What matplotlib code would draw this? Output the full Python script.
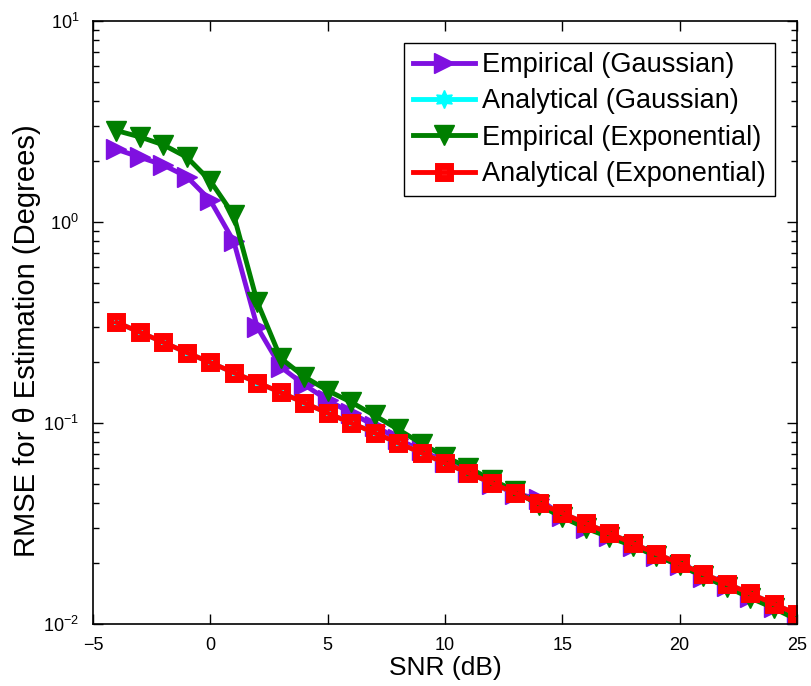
import numpy as np
import matplotlib
matplotlib.use("Agg")
import matplotlib.pyplot as plt

plt.rcParams["font.family"] = ["Liberation Sans", "DejaVu Sans"]
plt.rcParams["mathtext.fontset"] = "custom"
plt.rcParams["mathtext.rm"] = "Liberation Sans"
plt.rcParams["mathtext.it"] = "Liberation Sans:italic"

snr_db = list(range(-4, 26))

emp_gauss = [2.3, 2.1, 1.92, 1.68, 1.28, 0.80, 0.30, 0.19, 0.155, 0.13,
             0.112, 0.097, 0.083, 0.073, 0.064, 0.057, 0.050, 0.0445, 0.042, 0.0345,
             0.030, 0.0275, 0.0245, 0.0218, 0.0196, 0.0172, 0.0154, 0.0137, 0.0122, 0.0105]

ana_gauss = [0.317, 0.283, 0.252, 0.224, 0.200, 0.178, 0.159, 0.142, 0.126, 0.112,
             0.100, 0.0893, 0.0796, 0.0710, 0.0632, 0.0564, 0.0502, 0.0448, 0.0399, 0.0356,
             0.0317, 0.0283, 0.0252, 0.0224, 0.0200, 0.0178, 0.0159, 0.0142, 0.0126, 0.0112]

emp_expo = [2.85, 2.65, 2.42, 2.1, 1.6, 1.08, 0.40, 0.21, 0.17, 0.145,
            0.127, 0.109, 0.093, 0.079, 0.068, 0.060, 0.052, 0.046, 0.039, 0.034,
            0.030, 0.027, 0.0245, 0.0218, 0.0196, 0.0173, 0.0153, 0.0135, 0.012, 0.0105]

ana_expo = [0.317, 0.283, 0.252, 0.224, 0.200, 0.178, 0.159, 0.142, 0.126, 0.112,
            0.100, 0.0893, 0.0796, 0.0710, 0.0632, 0.0564, 0.0502, 0.0448, 0.0399, 0.0356,
            0.0317, 0.0283, 0.0252, 0.0224, 0.0200, 0.0178, 0.0159, 0.0142, 0.0126, 0.0112]

fig = plt.figure(figsize=(8.11, 6.86), dpi=100)
ax = fig.add_axes([93 / 811, 62 / 686, 704 / 811, 603 / 686])

lw = 3.5
ax.plot(snr_db, emp_gauss, "-", marker=">", color="#7f10e0", lw=lw, ms=15,
        label="Empirical (Gaussian)")
ax.plot(snr_db, ana_gauss, "-", marker=(6, 1, 0), color="cyan", lw=lw, ms=13,
        label="Analytical (Gaussian)")
ax.plot(snr_db, emp_expo, "-", marker="v", color="#007f00", lw=lw, ms=15,
        label="Empirical (Exponential)")
ax.plot(snr_db, ana_expo, "-", marker="s", color="red", mfc="none", mew=5, lw=lw, ms=9,
        label="Analytical (Exponential)")

ax.set_yscale("log")
ax.set_xlim(-5, 25)
ax.set_ylim(1e-2, 10)
ax.set_xticks([-5, 0, 5, 10, 15, 20, 25])
ax.set_xticklabels(["\u22125", "0", "5", "10", "15", "20", "25"])
ax.tick_params(which="both", direction="in", top=True, right=True, labelsize=13)
ax.tick_params(axis="x", pad=9)
ax.tick_params(axis="y", pad=10)
ax.tick_params(which="major", length=7, width=1)
ax.tick_params(which="minor", length=4, width=1)
for s in ax.spines.values():
    s.set_linewidth(1.2)

ax.set_xlabel("SNR (dB)", fontsize=19, labelpad=2)
ax.set_ylabel("RMSE for \u03b8 Estimation (Degrees)", fontsize=21, labelpad=2)
ax.yaxis.set_label_coords(-0.074, 0.47)

leg = ax.legend(loc="upper right", fontsize=19.5, handlelength=2.3, fancybox=False,
                edgecolor="black", framealpha=1, borderaxespad=0.8,
                handletextpad=0.25, labelspacing=0.38, borderpad=0.35)
leg.get_frame().set_linewidth(1.0)

fig.savefig("out.png", dpi=100)
